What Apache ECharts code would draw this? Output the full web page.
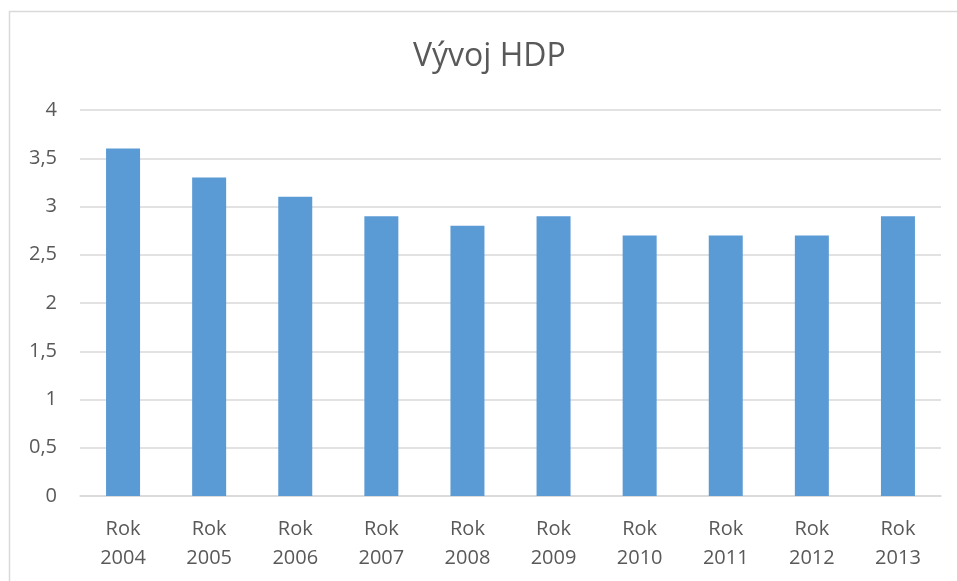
<!DOCTYPE html>
<html>
<head>
<meta charset="utf-8">
<title>Vývoj HDP</title>
<script src="https://cdn.jsdelivr.net/npm/echarts@6/dist/echarts.min.js"></script>
<style>
  html, body { margin: 0; padding: 0; background: #fff; }
  #chart { width: 957px; height: 581px; }
</style>
</head>
<body>
<div id="chart"></div>
<script>
// data
const years = ['Rok\n2004', 'Rok\n2005', 'Rok\n2006', 'Rok\n2007', 'Rok\n2008',
  'Rok\n2009', 'Rok\n2010', 'Rok\n2011', 'Rok\n2012', 'Rok\n2013']
const hdp = [3.6, 3.3, 3.1, 2.9, 2.8, 2.9, 2.7, 2.7, 2.7, 2.9]
const yTicks = [0, 0.5, 1, 1.5, 2, 2.5, 3, 3.5, 4]

const textColor = '#595959'
const fontFamily = '"Open Sans", "Noto Sans", sans-serif'

const chart = echarts.init(document.getElementById('chart'))

chart.setOption({
  animation: false,
  backgroundColor: '#fff',
  textStyle: { fontFamily: fontFamily },
  // outer chart border (cropped on right and bottom)
  graphic: [{
    type: 'rect',
    shape: { x: 9.5, y: 11.5, width: 1000, height: 1000 },
    style: { fill: 'none', stroke: '#d9d9d9', lineWidth: 1.5 },
    silent: true
  }],
  title: {
    text: 'Vývoj HDP',
    left: 408,
    top: 36,
    textStyle: { color: textColor, fontSize: 32, fontWeight: 'normal', fontFamily: fontFamily }
  },
  grid: { left: 80, right: 16, top: 110, bottom: 85 },
  xAxis: {
    type: 'category',
    data: years,
    axisLine: { show: true, lineStyle: { color: '#d9d9d9', width: 1.5 } },
    axisTick: { show: false },
    axisLabel: {
      color: textColor,
      fontSize: 20,
      lineHeight: 29,
      margin: 19,
      interval: 0
    }
  },
  yAxis: {
    type: 'value',
    min: yTicks[0],
    max: yTicks[yTicks.length - 1],
    interval: 0.5,
    axisLine: { show: false },
    axisTick: { show: false },
    splitLine: { lineStyle: { color: '#d9d9d9', width: 1.5 } },
    axisLabel: {
      color: textColor,
      fontSize: 20,
      margin: 23,
      formatter: (v) => String(v).replace('.', ',')
    }
  },
  series: [{
    type: 'bar',
    data: hdp,
    barWidth: 34,
    itemStyle: { color: '#5b9bd5' }
  }]
})
</script>
</body>
</html>
